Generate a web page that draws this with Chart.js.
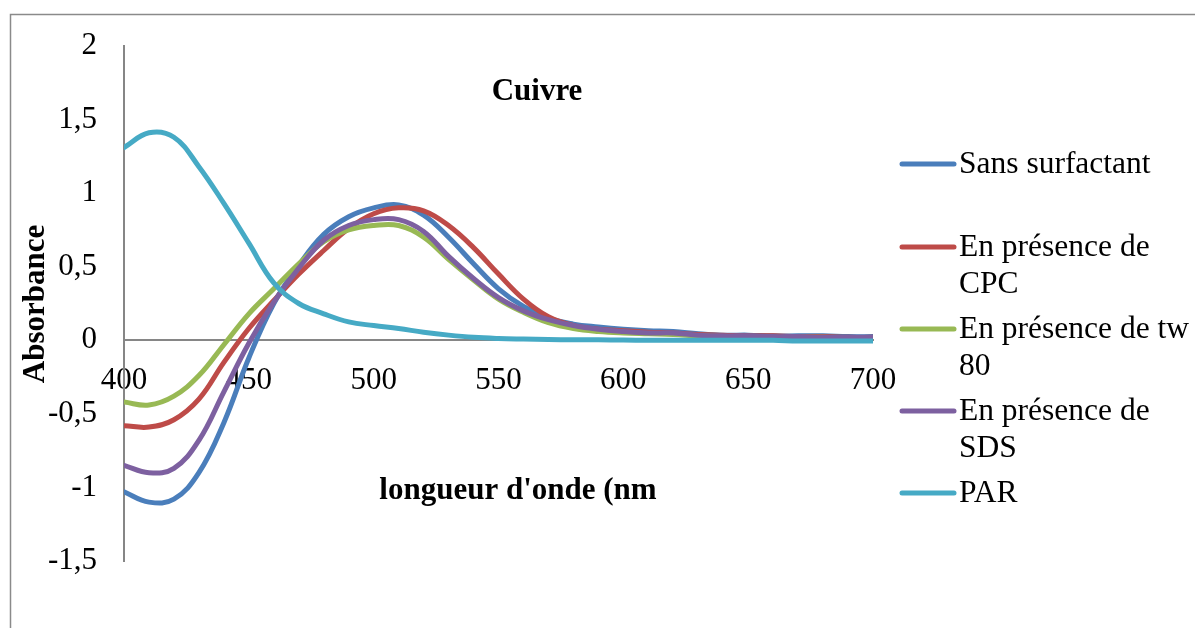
<!DOCTYPE html>
<html>
<head>
<meta charset="utf-8">
<title>Cuivre</title>
<script src="https://cdn.jsdelivr.net/npm/chart.js@4"></script>
<style>
    html, body { margin: 0; padding: 0; background: #fff; }
    canvas { display: block; }
</style>
</head>
<body>
<canvas id="spectreChart" width="1195" height="628"></canvas>
<script>
// Valeurs (absorbance par longueur d'onde)
const wavelengths = [400, 410, 420, 430, 440, 450, 460, 470, 480, 490, 500, 510, 520, 530, 540, 550,
    560, 570, 580, 590, 600, 610, 620, 630, 640, 650, 660, 670, 680, 690, 700];
const sansSurfactant = [-1.03, -1.10, -1.08, -0.90, -0.56, -0.12, 0.25, 0.51, 0.72, 0.84, 0.90, 0.92, 0.85, 0.70, 0.52, 0.35,
    0.23, 0.15, 0.11, 0.09, 0.075, 0.065, 0.06, 0.045, 0.035, 0.035, 0.03, 0.03, 0.03, 0.025, 0.025];
const presenceCPC = [-0.58, -0.59, -0.54, -0.40, -0.15, 0.08, 0.27, 0.45, 0.61, 0.76, 0.86, 0.90, 0.88, 0.78, 0.63, 0.45,
    0.28, 0.16, 0.10, 0.075, 0.065, 0.055, 0.05, 0.04, 0.035, 0.03, 0.03, 0.025, 0.025, 0.02, 0.02];
const presenceTw80 = [-0.42, -0.44, -0.38, -0.24, -0.03, 0.18, 0.35, 0.52, 0.67, 0.75, 0.78, 0.78, 0.70, 0.55, 0.41, 0.28,
    0.19, 0.12, 0.08, 0.06, 0.05, 0.045, 0.04, 0.03, 0.025, 0.025, 0.02, 0.02, 0.02, 0.015, 0.015];
const presenceSDS = [-0.85, -0.90, -0.87, -0.68, -0.35, -0.02, 0.26, 0.49, 0.68, 0.78, 0.82, 0.82, 0.74, 0.57, 0.42, 0.29,
    0.20, 0.14, 0.10, 0.075, 0.06, 0.05, 0.05, 0.035, 0.03, 0.03, 0.025, 0.025, 0.02, 0.02, 0.02];
const par = [1.31, 1.41, 1.38, 1.18, 0.93, 0.66, 0.39, 0.25, 0.18, 0.125, 0.10, 0.08, 0.055, 0.035, 0.02, 0.012,
    0.008, 0.005, 0.004, 0.003, 0.002, 0, 0, 0, 0, 0, 0, -0.005, -0.005, -0.005, -0.005];

const seriesLabels = [['Sans surfactant'], ['En présence de', 'CPC'], ['En présence de tw', '80'],
    ['En présence de', 'SDS'], ['PAR']];
const seriesColors = ['#4A7EBB', '#BE4B48', '#98B954', '#7D60A0', '#46AAC5'];

const serif = "'Liberation Serif', 'Times New Roman', serif";

function toPoints(values) {
    return values.map((v, i) => ({ x: wavelengths[i], y: v }));
}

// Cadre, titres et legende dessines a la main (style Excel)
const decorations = {
    id: 'decorations',
    beforeDraw(chart) {
        const ctx = chart.ctx;
        ctx.save();
        ctx.strokeStyle = '#8a8a8a';
        ctx.lineWidth = 1.5;
        ctx.beginPath();
        ctx.moveTo(10.5, 1300);
        ctx.lineTo(10.5, 14.5);
        ctx.lineTo(1300, 14.5);
        ctx.stroke();
        ctx.restore();
    },
    afterDraw(chart) {
        const ctx = chart.ctx;
        ctx.save();
        ctx.fillStyle = '#000';
        ctx.textAlign = 'center';
        ctx.textBaseline = 'middle';
        ctx.font = 'bold 31px ' + serif;
        ctx.fillText('Cuivre', 537, 92);
        ctx.fillText("longueur d'onde (nm", 518, 491);

        ctx.translate(36, 304);
        ctx.rotate(-Math.PI / 2);
        ctx.fillText('Absorbance', 0, 0);
        ctx.restore();

        // legende
        const rowsY = [164, 247, 329, 411, 493];
        ctx.save();
        ctx.font = '31.5px ' + serif;
        ctx.textAlign = 'left';
        ctx.textBaseline = 'middle';
        ctx.lineCap = 'round';
        ctx.lineWidth = 5;
        seriesLabels.forEach((lines, i) => {
            const y = rowsY[i];
            ctx.strokeStyle = seriesColors[i];
            ctx.beginPath();
            ctx.moveTo(902, y);
            ctx.lineTo(954, y);
            ctx.stroke();
            ctx.fillStyle = '#000';
            lines.forEach((txt, k) => ctx.fillText(txt, 959, y + 1 + k * 37));
        });
        ctx.restore();
    }
};

const seriesData = [sansSurfactant, presenceCPC, presenceTw80, presenceSDS, par];

new Chart(document.getElementById('spectreChart'), {
    type: 'line',
    data: {
        datasets: seriesData.map((values, i) => ({
            label: seriesLabels[i].join(' '),
            data: toPoints(values),
            borderColor: seriesColors[i],
            backgroundColor: seriesColors[i],
            order: seriesData.length - i
        }))
    },
    options: {
        responsive: false,
        animation: false,
        layout: { padding: { left: 0, right: 322, top: 46, bottom: 67 } },
        elements: {
            point: { radius: 0 },
            line: { borderWidth: 5, tension: 0.4, borderCapStyle: 'round', borderJoinStyle: 'round' }
        },
        plugins: {
            legend: { display: false },
            title: { display: false },
            tooltip: { enabled: false }
        },
        scales: {
            x: {
                type: 'linear',
                min: 400,
                max: 700,
                position: { y: 0 },
                grid: { display: false, drawTicks: false },
                border: { color: '#868686', width: 2 },
                ticks: {
                    stepSize: 50,
                    autoSkip: false,
                    maxRotation: 0,
                    padding: 22,
                    color: '#000',
                    font: { family: serif, size: 31 }
                }
            },
            y: {
                min: -1.5,
                max: 2,
                grid: { display: false, drawTicks: false },
                border: { color: '#868686', width: 2 },
                ticks: {
                    stepSize: 0.5,
                    autoSkip: false,
                    padding: 27,
                    color: '#000',
                    font: { family: serif, size: 31 },
                    callback: value => String(value).replace('.', ',')
                },
                afterFit: scale => { scale.width = 124; }
            }
        }
    },
    plugins: [decorations]
});
</script>
</body>
</html>
